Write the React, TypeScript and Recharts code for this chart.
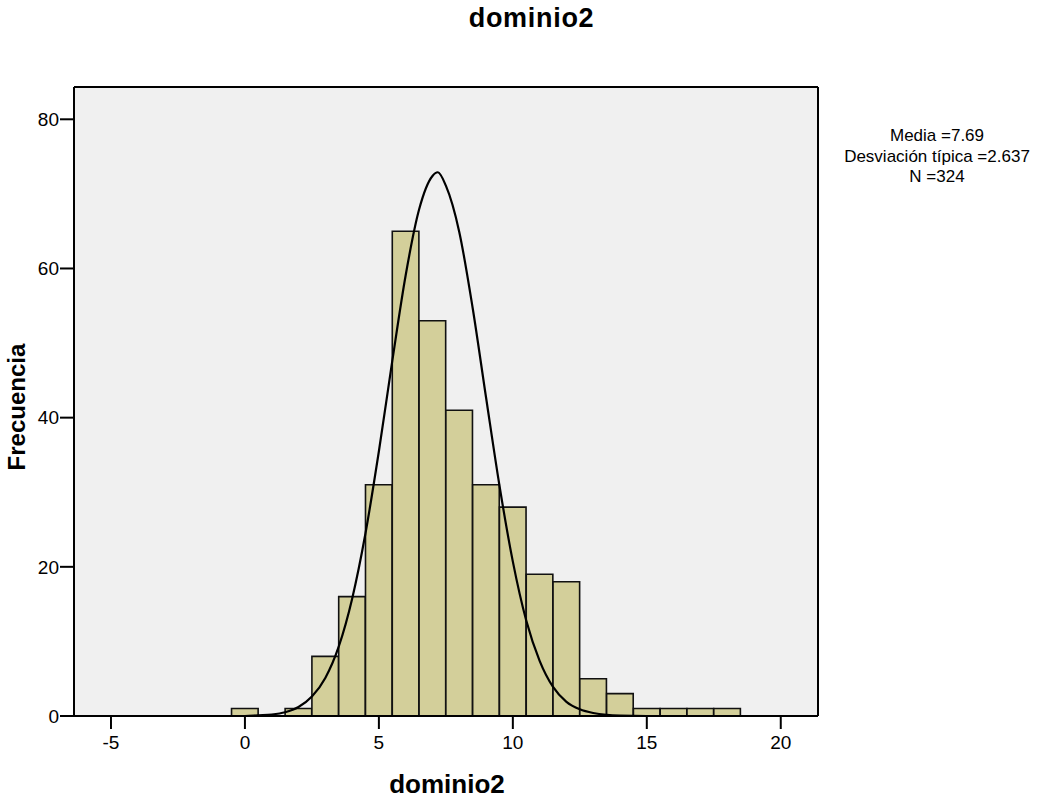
import React from 'react';
import { ComposedChart, Bar, Line, XAxis, YAxis, CartesianGrid, ReferenceLine } from 'recharts';

// Histogram bins (centre of each bin) and their frequencies
const binCenters = [0, 1, 2, 3, 4, 5, 6, 7, 8, 9, 10, 11, 12, 13, 14, 15, 16, 17, 18];
const binCounts = [1, 0, 1, 8, 16, 31, 65, 53, 41, 31, 28, 19, 18, 5, 3, 1, 1, 1, 1];

// Normal curve
const curveX = [-6, 0, 0.5, 1, 1.5, 2, 2.5, 3, 3.5, 4, 4.5, 5, 5.5, 6, 6.5, 7, 7.2, 7.5, 8, 8.5, 9, 9.5, 10, 10.5, 11, 11.5, 12, 12.5, 13, 13.5, 14, 15, 21];
const curveY = [0, 0, 0.1, 0.2, 0.5, 1.2, 2.6, 5.1, 9.3, 15.7, 24.5, 35.5, 47.6, 59.1, 67.9, 72.4, 72.9, 71.1, 64.9, 54.7, 42.7, 30.9, 20.7, 12.8, 7.4, 3.9, 1.9, 0.9, 0.4, 0.15, 0.05, 0, 0];

const xTicks = [-5, 0, 5, 10, 15, 20];
const yTicks = [0, 20, 40, 60, 80];

const title = 'dominio2';
const xLabel = 'dominio2';
const yLabel = 'Frecuencia';
const statsLines = ['Media =7.69', 'Desviación típica =2.637', 'N =324'];

const X_DOMAIN: [number, number] = [-6.38, 21.39];
const Y_DOMAIN: [number, number] = [0, 84.33];

const binData = binCenters.map((x, i) => ({ x, count: binCounts[i] }));
const curveData = curveX.map((x, i) => ({ cx: x, curve: curveY[i] }));

const FONT = '"Liberation Sans", Arial, sans-serif';

export default function App() {
  return (
    <div
      style={{
        position: 'absolute',
        left: 0,
        top: 0,
        width: 1057,
        height: 798,
        background: '#ffffff',
        fontFamily: FONT,
        overflow: 'hidden',
      }}
    >
      <ComposedChart
        width={1057}
        height={798}
        data={binData}
        margin={{ top: 87, right: 239, bottom: 32, left: 14 }}
      >
        <CartesianGrid horizontal={false} vertical={false} fill="#f0f0f0" />
        <XAxis
          xAxisId="bins"
          dataKey="x"
          type="number"
          domain={X_DOMAIN}
          allowDataOverflow
          ticks={xTicks}
          interval={0}
          height={50}
          tickSize={13}
          tickMargin={7}
          axisLine={{ stroke: '#000', strokeWidth: 2 }}
          tickLine={{ stroke: '#000', strokeWidth: 2 }}
          tick={{ fill: '#000', fontSize: 19, fontFamily: FONT }}
        />
        <XAxis
          xAxisId="curve"
          dataKey="cx"
          type="number"
          domain={X_DOMAIN}
          allowDataOverflow
          hide
        />
        <YAxis
          yAxisId="left"
          type="number"
          domain={Y_DOMAIN}
          allowDataOverflow
          ticks={yTicks}
          interval={0}
          width={60}
          tickSize={14}
          tickMargin={1}
          axisLine={{ stroke: '#000', strokeWidth: 2 }}
          tickLine={{ stroke: '#000', strokeWidth: 2 }}
          tick={{ fill: '#000', fontSize: 19, fontFamily: FONT }}
        />
        <ReferenceLine
          xAxisId="bins"
          yAxisId="left"
          y={Y_DOMAIN[1]}
          stroke="#000"
          strokeWidth={2}
          ifOverflow="visible"
        />
        <ReferenceLine
          xAxisId="bins"
          yAxisId="left"
          x={X_DOMAIN[1]}
          stroke="#000"
          strokeWidth={2}
          ifOverflow="visible"
        />
        <Bar
          xAxisId="bins"
          yAxisId="left"
          dataKey="count"
          barSize={26.6}
          fill="#d3cf9a"
          stroke="#111"
          strokeWidth={1.6}
          isAnimationActive={false}
        />
        <Line
          xAxisId="curve"
          yAxisId="left"
          data={curveData}
          dataKey="curve"
          type="monotone"
          stroke="#000"
          strokeWidth={2.2}
          dot={false}
          activeDot={false}
          isAnimationActive={false}
        />
      </ComposedChart>

      <div
        style={{
          position: 'absolute',
          left: 0,
          width: 1057,
          top: 2,
          textAlign: 'center',
          fontSize: 27,
          fontWeight: 'bold',
          letterSpacing: 0.7,
          lineHeight: '32px',
          paddingLeft: 6,
          boxSizing: 'border-box',
        }}
      >
        {title}
      </div>

      <div
        style={{
          position: 'absolute',
          left: 347,
          width: 200,
          top: 772,
          height: 24,
          textAlign: 'center',
          fontSize: 26,
          fontWeight: 'bold',
          lineHeight: '24px',
        }}
      >
        {xLabel}
      </div>

      <div
        style={{
          position: 'absolute',
          left: 17 - 100,
          top: 407 - 15,
          width: 200,
          height: 30,
          lineHeight: '30px',
          textAlign: 'center',
          fontSize: 24,
          fontWeight: 'bold',
          transform: 'rotate(-90deg)',
        }}
      >
        {yLabel}
      </div>

      <div
        style={{
          position: 'absolute',
          left: 837,
          width: 200,
          top: 126,
          textAlign: 'center',
          fontSize: 17,
          lineHeight: '20.5px',
        }}
      >
        {statsLines.map((s) => (
          <div key={s} style={{ whiteSpace: 'nowrap' }}>{s}</div>
        ))}
      </div>
    </div>
  );
}
